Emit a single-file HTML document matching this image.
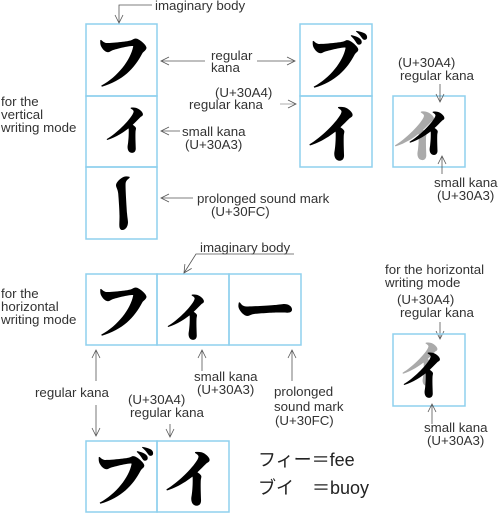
<!DOCTYPE html>
<html><head><meta charset="utf-8"><style>
html,body{margin:0;padding:0;background:#fff;}
svg{display:block;}
.t{font-family:"Liberation Sans",sans-serif;font-size:13.3px;fill:#333;}
.k{font-family:"Noto Serif CJK JP","Noto Serif CJK SC",serif;font-weight:900;fill:#000;text-anchor:middle;}
.b{fill:none;stroke:#8fd0ee;stroke-width:1.5;}
.l{fill:none;stroke:#555;stroke-width:0.8;}
</style></head><body>
<svg width="502" height="528" viewBox="0 0 502 528" xmlns="http://www.w3.org/2000/svg">
<defs><marker id="a" markerWidth="10" markerHeight="10" refX="9" refY="5" orient="auto" markerUnits="userSpaceOnUse"><path d="M1,1 L9,5 L1,9" fill="none" stroke="#555" stroke-width="0.8"/></marker></defs>
<rect class="b" x="86" y="24" width="71" height="72"/><rect class="b" x="86" y="96" width="71" height="71"/><rect class="b" x="86" y="167" width="71" height="72"/>
<rect class="b" x="300" y="24" width="72" height="72"/><rect class="b" x="300" y="96" width="72" height="71"/>
<rect class="b" x="393" y="96" width="72" height="71"/>
<text class="k" x="122" y="84" font-size="62">フ</text>
<text class="k" x="129" y="150" font-size="52">イ</text>
<text class="k" transform="translate(120,203) rotate(90)" x="0" y="20" font-size="62">ー</text>
<text class="k" x="336" y="84" font-size="62">ブ</text>
<text class="k" x="336" y="157" font-size="62">イ</text>
<text class="k" x="419" y="157" font-size="56" style="fill:#aaa">イ</text>
<text class="k" x="431" y="152" font-size="50">イ</text>
<text class="t" x="155" y="10">imaginary body</text>
<path class="l" d="M152,5 H119 V23" marker-end="url(#a)"/>
<text class="t" x="211" y="60">regular</text><text class="t" x="211" y="72">kana</text>
<path class="l" d="M205,61 H161" marker-end="url(#a)"/><path class="l" d="M257,61 H295" marker-end="url(#a)"/>
<text class="t" x="215" y="97">(U+30A4)</text><text class="t" x="189" y="109">regular kana</text>
<path class="l" d="M280,104 H296" marker-end="url(#a)" style="stroke:#999"/>
<text class="t" x="182" y="136">small kana</text><text class="t" x="185" y="149">(U+30A3)</text>
<path class="l" d="M180,131 H161" marker-end="url(#a)"/>
<text class="t" x="197" y="203">prolonged sound mark</text><text class="t" x="211" y="216">(U+30FC)</text>
<path class="l" d="M193,198 H161" marker-end="url(#a)"/>
<text class="t" x="1" y="106">for the</text><text class="t" x="1" y="119">vertical</text><text class="t" x="1" y="132">writing mode</text>
<text class="t" x="398" y="67">(U+30A4)</text><text class="t" x="400" y="80">regular kana</text>
<path class="l" d="M440,84 V102" marker-end="url(#a)"/>
<text class="t" x="434" y="187">small kana</text><text class="t" x="437" y="200">(U+30A3)</text>
<path class="l" d="M442,174 V156" marker-end="url(#a)"/>
<rect class="b" x="86" y="274" width="71" height="71"/><rect class="b" x="157" y="274" width="72" height="71"/><rect class="b" x="229" y="274" width="72" height="71"/>
<text class="k" x="122" y="333" font-size="62">フ</text>
<text class="k" x="190" y="337" font-size="52">イ</text>
<text class="k" x="265" y="332" font-size="62">ー</text>
<text class="t" x="200" y="252">imaginary body</text>
<path class="l" d="M294,254 H196 L184,273" marker-end="url(#a)"/>
<text class="t" x="1" y="298">for the</text><text class="t" x="1" y="311">horizontal</text><text class="t" x="1" y="324">writing mode</text>
<path class="l" d="M96,381 V350" marker-end="url(#a)"/>
<text class="t" x="35" y="397">regular kana</text>
<path class="l" d="M96,405 V436" marker-end="url(#a)"/>
<text class="t" x="194" y="381">small kana</text><text class="t" x="197" y="394">(U+30A3)</text>
<path class="l" d="M202,371 V350" marker-end="url(#a)"/>
<text class="t" x="274" y="396">prolonged</text><text class="t" x="274" y="411">sound mark</text><text class="t" x="275" y="425">(U+30FC)</text>
<path class="l" d="M292,381 V350" marker-end="url(#a)"/>
<text class="t" x="128" y="404">(U+30A4)</text><text class="t" x="130" y="417">regular kana</text>
<path class="l" d="M170,424 V437" marker-end="url(#a)"/>
<rect class="b" x="86" y="441" width="71" height="71"/><rect class="b" x="157" y="441" width="72" height="71"/>
<text class="k" x="122" y="500" font-size="62">ブ</text>
<text class="k" x="193" y="502" font-size="62">イ</text>
<text x="258" y="466" style="font-family:'Liberation Sans','Noto Sans CJK JP',sans-serif;font-size:18px;fill:#222">フィー＝fee</text>
<text x="258" y="494" style="font-family:'Liberation Sans','Noto Sans CJK JP',sans-serif;font-size:18px;fill:#222">ブイ　＝buoy</text>
<text class="t" x="385" y="274">for the horizontal</text><text class="t" x="385" y="287">writing mode</text>
<text class="t" x="397" y="304">(U+30A4)</text><text class="t" x="400" y="317">regular kana</text>
<path class="l" d="M440,322 V339" marker-end="url(#a)"/>
<rect class="b" x="393" y="334" width="72" height="72"/>
<text class="k" x="424" y="383" font-size="50" style="fill:#aaa">イ</text>
<text class="k" x="426" y="395" font-size="52">イ</text>
<text class="t" x="424" y="432">small kana</text><text class="t" x="427" y="445">(U+30A3)</text>
<path class="l" d="M432,424 V404" marker-end="url(#a)"/>
</svg>
</body></html>
